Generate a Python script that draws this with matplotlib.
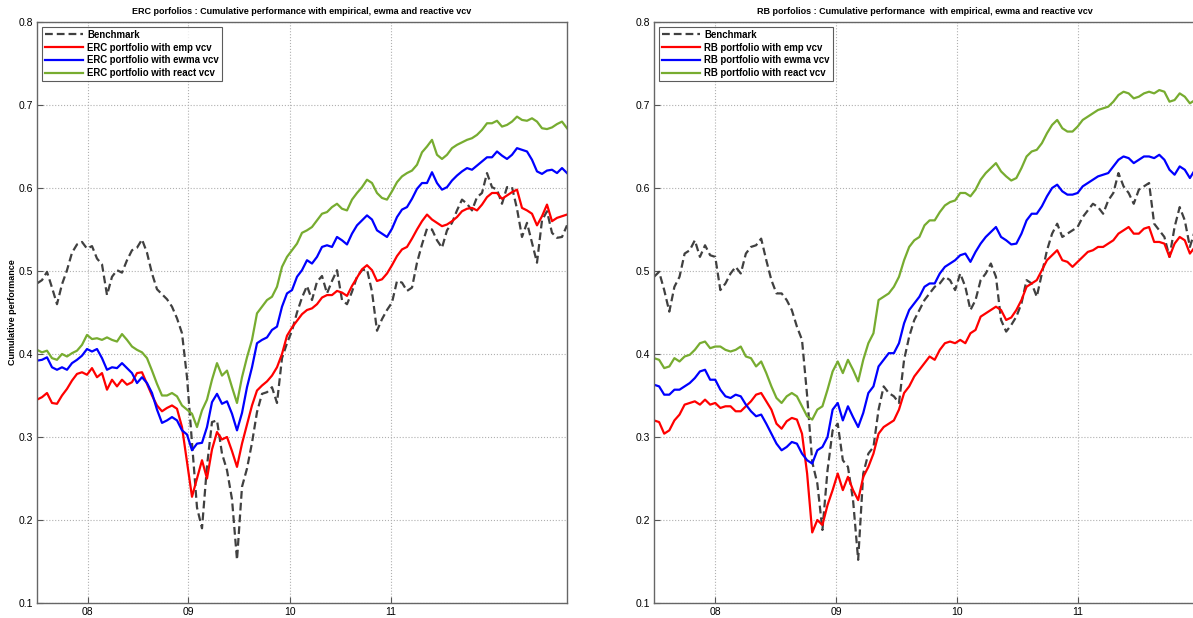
import numpy as np
import matplotlib
matplotlib.use('Agg')
import matplotlib.pyplot as plt

plt.rcParams['font.family'] = ['Liberation Sans', 'DejaVu Sans']

# dates as decimal years (07.49 -> 11.97), same timeline for both panels
dates = np.linspace(7.493, 11.971, 107)

year_labels = ['08', '09', '10', '11']
right_ticks = [8, 9, 10, 11]
left_ticks = [7.92, 8.77, 9.63, 10.48]   # left panel ticks sit at shifted spots in the original

# ERC panel
bench_erc = [.485, .489, .499, .480, .460, .484, .501, .522, .532, .535,
             .527, .530, .515, .508, .471, .493, .501, .498, .513, .525,
             .528, .538, .522, .497, .478, .472, .466, .457, .443, .425,
             .372, .293, .215, .190, .265, .318, .320, .280, .260, .225,
             .152, .240, .262, .293, .330, .352, .354, .360, .341, .395,
             .413, .428, .450, .468, .482, .465, .487, .494, .473, .488,
             .501, .465, .460, .475, .493, .501, .502, .475, .428, .442,
             .453, .462, .488, .486, .476, .480, .510, .532, .551, .550,
             .537, .528, .549, .558, .573, .586, .581, .573, .589, .594,
             .618, .601, .598, .581, .601, .601, .575, .541, .558, .534,
             .510, .561, .572, .546, .540, .541, .555]
emp_erc = [.345, .348, .353, .341, .340, .350, .358, .368, .376, .378,
           .375, .383, .372, .377, .357, .369, .361, .369, .363, .366,
           .377, .378, .364, .350, .338, .331, .335, .338, .334, .312,
           .270, .228, .250, .272, .250, .285, .306, .297, .300, .283,
           .264, .292, .315, .338, .356, .362, .367, .374, .384, .400,
           .422, .432, .440, .448, .453, .455, .460, .468, .471, .471,
           .476, .474, .470, .482, .492, .502, .507, .501, .488, .490,
           .497, .507, .518, .526, .529, .539, .550, .560, .568, .562,
           .558, .554, .556, .560, .565, .572, .575, .576, .573, .580,
           .589, .594, .594, .587, .591, .595, .598, .576, .573, .569,
           .555, .566, .580, .560, .564, .566, .568]
ewma_erc = [.392, .393, .396, .384, .381, .384, .381, .389, .393, .398,
            .406, .403, .406, .395, .381, .384, .383, .389, .383, .377,
            .365, .372, .365, .353, .333, .317, .320, .324, .320, .308,
            .303, .284, .292, .293, .312, .342, .352, .340, .343, .328,
            .308, .329, .360, .384, .413, .417, .420, .429, .433, .457,
            .473, .477, .493, .501, .513, .509, .517, .529, .531, .529,
            .541, .537, .532, .545, .555, .561, .567, .562, .549, .545,
            .541, .551, .565, .574, .577, .587, .599, .606, .606, .619,
            .606, .598, .601, .609, .615, .620, .624, .622, .627, .632,
            .637, .637, .644, .639, .635, .640, .648, .646, .644, .634,
            .620, .617, .621, .622, .618, .624, .618]
react_erc = [.405, .402, .404, .395, .393, .400, .397, .401, .404, .411,
             .423, .418, .419, .417, .420, .417, .415, .424, .417, .409,
             .405, .402, .395, .380, .364, .350, .350, .353, .349, .338,
             .333, .328, .312, .332, .345, .369, .389, .374, .380, .360,
             .341, .372, .396, .417, .449, .457, .465, .469, .481, .505,
             .517, .525, .533, .546, .549, .553, .561, .569, .571, .577,
             .581, .575, .573, .586, .594, .601, .610, .606, .594, .588,
             .586, .596, .607, .614, .618, .621, .628, .643, .650, .658,
             .640, .635, .640, .648, .652, .655, .658, .660, .664, .670,
             .678, .678, .681, .674, .676, .680, .686, .682, .681, .684,
             .680, .672, .671, .673, .677, .680, .672]

# RB panel
bench_rb = [.493, .499, .477, .451, .481, .493, .521, .525, .537, .517,
            .531, .519, .517, .477, .485, .497, .505, .497, .521, .529,
            .531, .539, .513, .489, .473, .473, .465, .453, .433, .417,
            .350, .270, .244, .188, .260, .308, .316, .272, .264, .224,
            .152, .256, .280, .288, .333, .361, .353, .349, .341, .393,
            .421, .441, .453, .465, .473, .481, .485, .493, .489, .477,
            .497, .481, .453, .465, .489, .497, .509, .493, .441, .427,
            .435, .445, .461, .489, .485, .469, .497, .525, .545, .557,
            .541, .545, .549, .553, .565, .573, .581, .577, .569, .585,
            .594, .618, .602, .594, .581, .598, .602, .606, .557, .549,
            .541, .517, .553, .577, .561, .529, .549]
emp_rb = [.320, .318, .304, .308, .320, .327, .339, .341, .343, .339,
          .345, .339, .341, .335, .337, .337, .331, .331, .337, .343,
          .351, .353, .343, .333, .316, .310, .319, .323, .321, .304,
          .256, .185, .200, .194, .218, .236, .256, .236, .252, .236,
          .224, .252, .264, .280, .304, .312, .316, .320, .333, .353,
          .361, .373, .381, .389, .397, .393, .405, .413, .415, .413,
          .417, .413, .425, .429, .445, .449, .453, .457, .453, .441,
          .444, .453, .465, .481, .485, .489, .501, .513, .519, .525,
          .513, .511, .505, .511, .517, .523, .525, .529, .529, .533,
          .537, .545, .549, .553, .545, .545, .551, .553, .535, .535,
          .533, .517, .533, .541, .537, .521, .529]
ewma_rb = [.363, .361, .351, .351, .357, .357, .361, .365, .371, .379,
           .381, .369, .369, .357, .349, .347, .351, .349, .339, .331,
           .325, .327, .316, .304, .292, .284, .288, .294, .292, .280,
           .272, .268, .284, .288, .300, .333, .341, .320, .337, .324,
           .312, .329, .353, .361, .385, .393, .401, .401, .413, .437,
           .453, .461, .469, .481, .485, .485, .497, .505, .509, .513,
           .519, .521, .511, .523, .533, .541, .547, .553, .541, .537,
           .532, .533, .545, .561, .569, .569, .578, .590, .600, .604,
           .596, .592, .592, .594, .602, .606, .610, .614, .616, .618,
           .626, .634, .638, .636, .630, .634, .638, .638, .636, .640,
           .634, .622, .616, .626, .622, .612, .622]
react_rb = [.395, .393, .383, .385, .395, .391, .397, .399, .405, .413,
            .415, .407, .409, .409, .405, .403, .405, .409, .397, .395,
            .385, .391, .377, .361, .347, .341, .349, .353, .349, .337,
            .325, .321, .333, .337, .357, .379, .391, .377, .393, .381,
            .367, .393, .413, .425, .465, .469, .473, .481, .493, .513,
            .529, .537, .541, .555, .561, .561, .571, .579, .583, .585,
            .594, .594, .590, .598, .610, .618, .624, .630, .620, .614,
            .609, .612, .624, .638, .644, .646, .654, .666, .676, .682,
            .672, .668, .668, .674, .682, .686, .690, .694, .696, .698,
            .704, .712, .716, .714, .708, .710, .714, .716, .714, .718,
            .716, .704, .706, .714, .710, .702, .706]

C_BENCH = '#404040'
C_EMP = '#ff0000'
C_EWMA = '#0000ff'
C_REACT = '#77ac30'


def draw_panel(ax, bench, emp, ewma, react, prefix, title, ticks):
    ax.plot(dates, bench, '--', color=C_BENCH, lw=1.6, dashes=(3.5, 1.8), label='Benchmark')
    ax.plot(dates, emp, color=C_EMP, lw=1.6, label=prefix + ' portfolio with emp vcv')
    ax.plot(dates, ewma, color=C_EWMA, lw=1.6, label=prefix + ' portfolio with ewma vcv')
    ax.plot(dates, react, color=C_REACT, lw=1.6, label=prefix + ' portfolio with react vcv')
    ax.set_xlim(dates[0], dates[-1])
    ax.set_ylim(0.1, 0.8)
    ax.set_xticks(ticks)
    ax.set_xticklabels(year_labels)
    ax.set_yticks(np.arange(0.1, 0.81, 0.1))
    ax.set_yticklabels(['0.1', '0.2', '0.3', '0.4', '0.5', '0.6', '0.7', '0.8'])
    ax.grid(True, linestyle=':', color='#b0b0b0', lw=0.8)
    ax.tick_params(direction='in', length=4, labelsize=7.5, color='#555555', pad=3)
    for s in ax.spines.values():
        s.set_color('#666666')
        s.set_linewidth(1.0)
    ax.set_title(title, fontsize=6.5, fontweight='bold', pad=6)
    leg = ax.legend(loc='upper left', prop={'weight': 'bold', 'size': 6.9},
                    frameon=True, fancybox=False, handlelength=4.0, handletextpad=0.45,
                    borderpad=0.3, labelspacing=0.3, borderaxespad=0.5)
    leg.get_frame().set_edgecolor('#333333')
    leg.get_frame().set_linewidth(0.8)


fig = plt.figure(figsize=(11.93, 6.18), dpi=100)
ax1 = fig.add_axes([37 / 1193, 15 / 618, 530 / 1193, 581 / 618])
ax2 = fig.add_axes([654 / 1193, 15 / 618, 541 / 1193, 581 / 618])

draw_panel(ax1, bench_erc, emp_erc, ewma_erc, react_erc, 'ERC',
           'ERC porfolios : Cumulative performance with empirical, ewma and reactive vcv', left_ticks)
draw_panel(ax2, bench_rb, emp_rb, ewma_rb, react_rb, 'RB',
           'RB porfolios : Cumulative performance  with empirical, ewma and reactive vcv', right_ticks)

ax1.set_ylabel('Cumulative performance', fontsize=6.5, fontweight='bold', labelpad=1)

fig.savefig('out.png', dpi=100)
